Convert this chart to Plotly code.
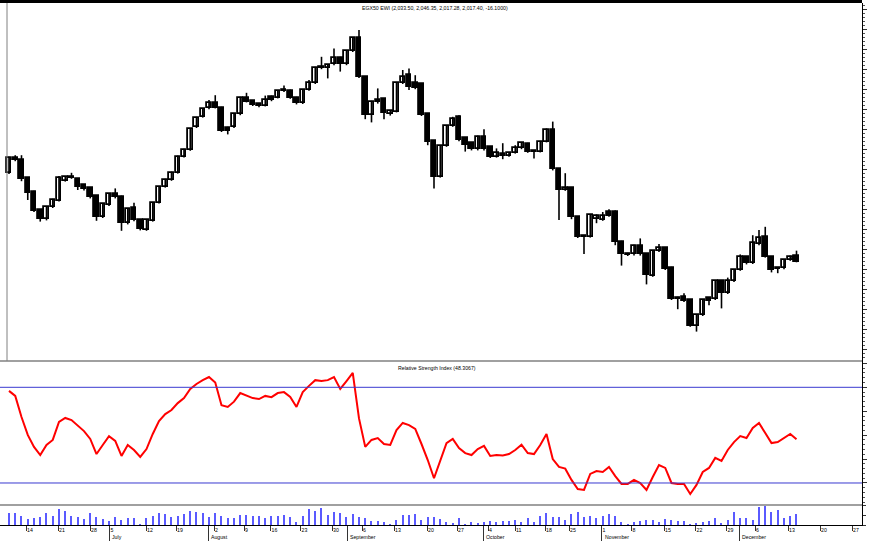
import plotly.graph_objects as go
from plotly.subplots import make_subplots

# ---------------- data ----------------
opens = [2241, 2279, 2273, 2227, 2194, 2148, 2125, 2155, 2171, 2221,
         2229, 2225, 2210, 2202, 2183, 2131, 2160, 2188, 2181, 2115,
         2152, 2123, 2098, 2121, 2166, 2206, 2223, 2241, 2281, 2298,
         2355, 2381, 2402, 2415, 2404, 2353, 2356, 2387, 2429, 2420,
         2412, 2409, 2431, 2429, 2445, 2446, 2429, 2415, 2448, 2465,
         2503, 2502, 2512, 2529, 2512, 2545, 2579, 2481, 2385, 2423,
         2425, 2387, 2394, 2465, 2485, 2465, 2463, 2388, 2321, 2231,
         2308, 2358, 2380, 2327, 2315, 2300, 2330, 2305, 2281, 2287,
         2283, 2291, 2302, 2313, 2293, 2294, 2319, 2348, 2250, 2198,
         2202, 2131, 2080, 2081, 2125, 2123, 2144, 2144, 2069, 2036,
         2037, 2058, 2037, 1984, 2045, 2052, 2004, 1929, 1931, 1923,
         1858, 1885, 1927, 1925, 1970, 1940, 1970, 1998, 2031, 2015,
         2062, 2081, 2031, 2001, 2002, 2023, 2033.50]
highs = [2281, 2285, 2285, 2229, 2196, 2150, 2158, 2176, 2233, 2233,
         2241, 2228, 2212, 2204, 2185, 2164, 2190, 2202, 2184, 2153,
         2166, 2125, 2125, 2168, 2208, 2226, 2244, 2284, 2301, 2353,
         2381, 2403, 2423, 2435, 2406, 2356, 2390, 2431, 2441, 2423,
         2414, 2434, 2434, 2448, 2459, 2449, 2431, 2450, 2473, 2506,
         2531, 2513, 2552, 2531, 2548, 2580, 2598, 2483, 2421, 2452,
         2428, 2398, 2467, 2498, 2502, 2485, 2465, 2390, 2323, 2310,
         2360, 2381, 2385, 2329, 2318, 2334, 2350, 2307, 2302, 2315,
         2293, 2310, 2317, 2316, 2297, 2321, 2352, 2369, 2252, 2240,
         2204, 2133, 2084, 2138, 2137, 2143, 2150, 2147, 2071, 2041,
         2061, 2077, 2039, 2048, 2063, 2054, 2006, 1931, 1940, 1925,
         1888, 1925, 1929, 1973, 1973, 1979, 2000, 2037, 2033, 2085,
         2098, 2106, 2033, 2004, 2025, 2034, 2046.35]
lows = [2238, 2270, 2220, 2173, 2143, 2119, 2122, 2153, 2169, 2219,
        2226, 2198, 2197, 2177, 2121, 2128, 2158, 2177, 2096, 2112,
        2120, 2097, 2096, 2119, 2164, 2204, 2221, 2239, 2279, 2296,
        2353, 2379, 2400, 2402, 2343, 2337, 2353, 2385, 2417, 2408,
        2405, 2407, 2420, 2427, 2443, 2426, 2412, 2413, 2446, 2463,
        2500, 2477, 2510, 2494, 2510, 2543, 2478, 2375, 2367, 2414,
        2375, 2384, 2392, 2463, 2448, 2450, 2383, 2310, 2202, 2229,
        2306, 2356, 2320, 2294, 2297, 2297, 2297, 2278, 2279, 2275,
        2281, 2289, 2300, 2291, 2277, 2292, 2317, 2247, 2123, 2196,
        2125, 2078, 2038, 2079, 2115, 2121, 2131, 2060, 2009, 2033,
        2034, 2034, 1962, 1981, 2043, 1998, 1923, 1900, 1918, 1856,
        1844, 1883, 1910, 1923, 1902, 1938, 1968, 1996, 2012, 2013,
        2060, 2029, 1992, 1990, 2000, 2021, 2017.28]
closes = [2277, 2273, 2225, 2191, 2146, 2125, 2156, 2173, 2227, 2230,
          2231, 2206, 2200, 2180, 2131, 2162, 2188, 2180, 2115, 2150,
          2123, 2100, 2123, 2166, 2206, 2223, 2241, 2281, 2298, 2350,
          2378, 2400, 2415, 2404, 2345, 2345, 2387, 2429, 2419, 2410,
          2408, 2423, 2423, 2445, 2447, 2429, 2415, 2448, 2465, 2504,
          2505, 2510, 2529, 2512, 2545, 2577, 2481, 2385, 2419, 2417,
          2390, 2395, 2465, 2481, 2456, 2452, 2385, 2318, 2231, 2308,
          2358, 2375, 2323, 2310, 2300, 2330, 2300, 2281, 2290, 2283,
          2291, 2302, 2315, 2294, 2295, 2319, 2348, 2250, 2198, 2202,
          2131, 2081, 2082, 2135, 2134, 2134, 2134, 2069, 2037, 2038,
          2058, 2037, 1985, 2045, 2052, 2000, 1925, 1925, 1920, 1858,
          1885, 1923, 1920, 1970, 1940, 1970, 1998, 2031, 2015, 2065,
          2078, 2031, 1998, 2002, 2023, 2031, 2017.40]
rsi = [68.5, 66.4, 57.6, 50.1, 45.1, 41.7, 45.9, 48.0, 55.5, 57.2,
       56.3, 54.2, 51.7, 48.4, 42.1, 45.9, 49.6, 47.6, 41.3, 45.9,
       43.8, 40.9, 44.2, 50.5, 55.9, 58.8, 60.5, 63.4, 65.5, 69.3,
       71.4, 73.0, 74.3, 72.0, 62.5, 61.8, 64.0, 67.6, 66.4, 65.5,
       65.1, 66.4, 65.9, 67.6, 68.0, 66.0, 61.8, 68.0, 70.6, 73.0,
       72.6, 73.0, 74.3, 69.3, 72.6, 76.0, 57.0, 45.1, 48.0, 48.8,
       46.3, 45.9, 52.1, 55.1, 54.2, 52.6, 46.3, 39.6, 32.0, 39.2,
       46.7, 48.4, 44.6, 42.5, 41.7, 44.2, 45.5, 41.3, 41.7, 41.5,
       42.1, 43.8, 46.0, 42.5, 42.1, 45.9, 50.5, 40.0, 36.7, 36.0,
       31.3, 27.5, 27.1, 33.8, 35.0, 34.6, 36.7, 32.9, 29.6, 29.6,
       31.3, 30.0, 27.1, 32.5, 37.5, 36.3, 30.0, 29.6, 29.6, 25.4,
       29.2, 34.6, 36.3, 40.5, 39.2, 43.8, 47.1, 49.6, 48.8, 53.0,
       55.1, 50.9, 46.7, 47.1, 48.8, 50.5, 48.3067]
volume = [11.7, 11.7, 9.3, 6, 6.7, 8.3, 12.3, 9.3, 16, 14.3,
          9.3, 7.7, 6, 11.7, 7.7, 6, 3.7, 8.3, 5, 6.7,
          6.7, 1, 6.7, 9.3, 11.7, 11, 7.7, 9.3, 11, 14.3,
          13.3, 11.7, 8.3, 11.7, 9, 6.7, 6.7, 9.7, 9.7, 9,
          9.3, 6.7, 9.3, 9.3, 10, 8.3, 3.3, 9.3, 15.7, 14.3,
          16.7, 10, 13.3, 11.7, 7.7, 11, 7.7, 6.7, 4.3, 4,
          3.3, 0.5, 5, 10, 10, 11, 5, 7.7, 8.3, 6,
          3.3, 1.7, 6.7, 1, 2.7, 2.3, 3.3, 4, 3.3, 4.3,
          4, 5, 2.7, 6.7, 3.3, 9.3, 12.3, 8.3, 7.7, 5,
          11, 13.3, 7.7, 9.3, 6.7, 9.3, 11, 9.3, 3.3, 0.5,
          3.3, 4, 5, 5, 3.3, 5.7, 5, 4, 4, 0.5,
          1.7, 3.3, 4, 7.3, 2.3, 5, 12.7, 7.3, 6.7, 5,
          17.7, 19, 13.3, 15, 6.7, 9, 11]

week_tick_pos = [2.72, 7.84, 12.96, 16.08, 21.92, 26.72, 32.8, 37.6, 41.84, 46.64,
                 51.68, 56.48, 61.6, 66.88, 71.68, 76.64, 80.96, 85.76, 89.6, 94.8,
                 99.6, 104.8, 109.84, 114.8, 119.36, 124.64, 129.76, 134.88]
week_tick_labels = ["14", "21", "28", "5", "12", "19", "2", "9", "16", "23",
                    "30", "6", "13", "20", "27", "4", "11", "18", "25", "1",
                    "8", "15", "22", "29", "6", "13", "20", "27"]
month_pos = [16.0, 31.89, 54.08, 75.89, 94.83, 116.85]
month_labels = ["July", "August", "September", "October", "November", "December"]

n = len(closes)
assert len(opens) == len(highs) == len(lows) == n == len(rsi) == len(volume)
idx = list(range(n))

FONT = "Liberation Sans Narrow, Arial Narrow, Liberation Sans, Arial, sans-serif"
FS = 5.2

# domains (paper fractions)
H_PLOT = 522.0
price_dom = [(525 - 361) / H_PLOT, 1.0]
rsi_dom = [(525 - 505) / H_PLOT, (525 - 361) / H_PLOT]
vol_dom = [0.0, (525 - 505) / H_PLOT]

fig = make_subplots(rows=3, cols=1, shared_xaxes=True, vertical_spacing=0)

# wicks
wx, wy = [], []
for i in idx:
    wx += [i, i, None]
    wy += [lows[i], highs[i], None]
fig.add_trace(go.Scatter(x=wx, y=wy, mode="lines",
                         line=dict(color="black", width=1.6),
                         hoverinfo="skip"), row=1, col=1)

# bodies
base = [min(o, c) for o, c in zip(opens, closes)]
body = [max(abs(c - o), 1.5) for o, c in zip(opens, closes)]
colors = ["white" if c >= o else "black" for o, c in zip(opens, closes)]
fig.add_trace(go.Bar(x=idx, y=body, base=base, width=0.72,
                     marker=dict(color=colors, line=dict(color="black", width=1.8))),
              row=1, col=1)

# RSI
fig.add_trace(go.Scatter(x=idx, y=rsi, mode="lines",
                         line=dict(color="#ff0000", width=2)), row=2, col=1)

# volume
fig.add_trace(go.Bar(x=idx, y=volume, width=0.2,
                     marker=dict(color="#5a5aff", line=dict(width=0))), row=3, col=1)

xr = [-1.44, 136.48]
common_x = dict(range=xr, showgrid=False, zeroline=False, showticklabels=False, ticks="")
fig.update_layout(
    xaxis=dict(**common_x, anchor="y"),
    xaxis2=dict(**common_x, anchor="y2"),
    xaxis3=dict(range=xr, showgrid=False, zeroline=False, anchor="y3",
                showline=True, linecolor="black", linewidth=1,
                tickmode="array", tickvals=week_tick_pos, ticktext=week_tick_labels,
                ticks="outside", ticklen=5, tickwidth=1, tickcolor="#333333",
                ticklabelposition="outside right",
                tickfont=dict(family=FONT, size=FS, color="black"),
                minor=dict(tickmode="array", tickvals=month_pos, ticks="outside",
                           ticklen=16, tickwidth=1, tickcolor="#333333")),
    yaxis=dict(domain=price_dom, range=[1770.5, 2665.5], side="right",
               showgrid=False, zeroline=False, showticklabels=False,
               showline=True, linecolor="black", linewidth=1,
               ticks="outside", ticklen=4, dtick=50, tickcolor="#333333",
               minor=dict(ticks="outside", ticklen=2, dtick=10, tickcolor="#555555")),
    yaxis2=dict(domain=rsi_dom, range=[20.8, 81], side="right",
                showgrid=False, zeroline=False, showticklabels=False,
                showline=True, linecolor="black", linewidth=1,
                ticks="outside", ticklen=4, dtick=10, tickcolor="#333333",
                minor=dict(ticks="outside", ticklen=2, dtick=2, tickcolor="#555555")),
    yaxis3=dict(domain=vol_dom, range=[0, 20], side="right",
                showgrid=False, zeroline=False, showticklabels=False,
                showline=True, linecolor="black", linewidth=1,
                ticks="outside", ticklen=3, dtick=10, tickcolor="#333333"),
)

title_txt = "EGX50 EWI ({:,.2f}, {:,.2f}, {:,.2f}, {:,.2f}, {:.4f})".format(
    opens[-1], highs[-1], lows[-1], closes[-1], closes[-1] - opens[-1])
rsi_txt = "Relative Strength Index ({:.4f})".format(rsi[-1])

annotations = [
    dict(text=title_txt, x=435 / 862, y=(525 - 8) / H_PLOT, xref="paper", yref="paper",
         showarrow=False, font=dict(family=FONT, size=FS, color="black"),
         xanchor="center", yanchor="middle"),
    dict(text=rsi_txt, x=437 / 862, y=(525 - 368) / H_PLOT, xref="paper", yref="paper",
         showarrow=False, font=dict(family=FONT, size=FS, color="black"),
         xanchor="center", yanchor="middle"),
]
for mp, ml in zip(month_pos, month_labels):
    annotations.append(dict(text=ml, x=mp, y=(525 - 537) / H_PLOT, xref="x3", yref="paper",
                            showarrow=False, xanchor="left", yanchor="middle", xshift=1,
                            font=dict(family=FONT, size=FS, color="black")))

shapes = [
    # top black bar
    dict(type="line", xref="paper", yref="paper", x0=0, x1=1,
         y0=1 + 1.5 / H_PLOT, y1=1 + 1.5 / H_PLOT, line=dict(color="black", width=3)),
    # panel separators
    dict(type="line", xref="paper", yref="paper", x0=0, x1=1,
         y0=price_dom[0], y1=price_dom[0], line=dict(color="#808080", width=1.5)),
    dict(type="line", xref="paper", yref="paper", x0=0, x1=1,
         y0=rsi_dom[0], y1=rsi_dom[0], line=dict(color="#808080", width=1.5)),
    # left border of price panel
    dict(type="line", xref="paper", yref="paper", x0=7 / 862, x1=7 / 862,
         y0=price_dom[0], y1=1, line=dict(color="#808080", width=1)),
    # RSI 70 / 30 levels
    dict(type="line", xref="paper", yref="y2", x0=0, x1=1, y0=70, y1=70,
         line=dict(color="#3a3ad0", width=1)),
    dict(type="line", xref="paper", yref="y2", x0=0, x1=1, y0=30, y1=30,
         line=dict(color="#3a3ad0", width=1)),
]

fig.update_layout(
    width=872, height=541,
    margin=dict(l=0, r=10, t=3, b=16),
    paper_bgcolor="white", plot_bgcolor="white",
    showlegend=False, bargap=0,
    annotations=annotations, shapes=shapes,
    font=dict(family=FONT, size=FS, color="black"),
)

fig.write_html(
    "out.html",
    config={"displayModeBar": False},
    post_script="document.body.style.margin='0px';document.body.style.padding='0px';"
                "document.documentElement.style.overflow='hidden';",
)
